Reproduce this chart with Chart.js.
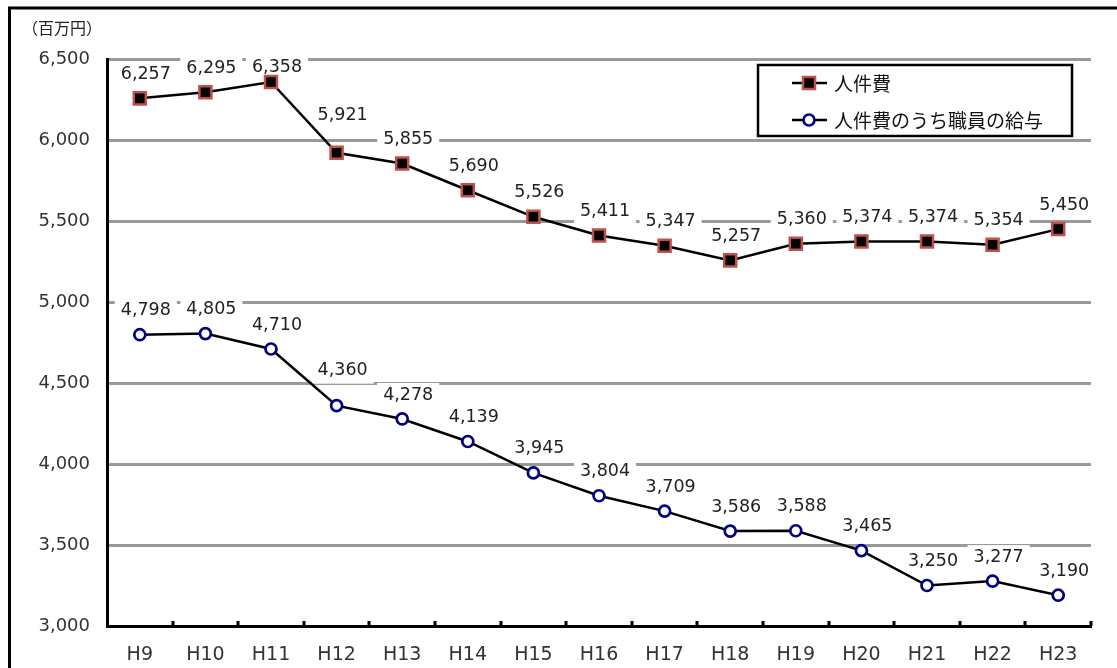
<!DOCTYPE html>
<html>
<head>
<meta charset="utf-8">
<script src="https://cdn.jsdelivr.net/npm/chart.js"></script>
<style>
    html, body { margin: 0; padding: 0; background: #fff; }
    #chartJinkenhi { display: block; }
</style>
</head>
<body>
<canvas id="chartJinkenhi" width="1117" height="668"></canvas>
<script>
// datos del grafico
var labels = ['H9', 'H10', 'H11', 'H12', 'H13', 'H14', 'H15', 'H16', 'H17', 'H18', 'H19', 'H20', 'H21', 'H22', 'H23'];
var datosJinkenhi = [6257, 6295, 6358, 5921, 5855, 5690, 5526, 5411, 5347, 5257, 5360, 5374, 5374, 5354, 5450];
var datosKyuyo = [4798, 4805, 4710, 4360, 4278, 4139, 3945, 3804, 3709, 3586, 3588, 3465, 3250, 3277, 3190];
var nombresSeries = ['人件費', '人件費のうち職員の給与'];
var tituloEjeY = '（百万円）';

var fuente = "'DejaVu Sans', 'Noto Sans CJK JP', sans-serif";
var fuenteJp = "'Noto Sans CJK JP', sans-serif";
Chart.defaults.font.family = fuente;

// etiquetas que Excel movio a mano (cuanto suben sobre el punto)
var alturaEspecial = { '0-2': 15, '0-3': 37, '1-3': 35 };

function posEtiqueta(chart, d, i) {
    var p = chart.getDatasetMeta(d).data[i];
    var sube = alturaEspecial[d + '-' + i] || 24;
    return { x: p.x + 6, y: p.y - sube };
}

// cajas blancas detras de las etiquetas, por debajo de las lineas
var pluginEtiquetas = {
    id: 'etiquetas',
    beforeDatasetsDraw: function(chart) {
        var ctx = chart.ctx;
        ctx.save();
        ctx.font = '17.5px ' + fuente;
        ctx.fillStyle = '#ffffff';
        chart.data.datasets.forEach(function(ds, d) {
            ds.data.forEach(function(v, i) {
                var pos = posEtiqueta(chart, d, i);
                var w = ctx.measureText(v.toLocaleString('en-US')).width;
                ctx.fillRect(pos.x - w / 2 - 6, pos.y - 12, w + 12, 25);
            });
        });
        ctx.restore();
    },
    afterDatasetsDraw: function(chart) {
        var ctx = chart.ctx;
        ctx.save();
        ctx.font = '17.5px ' + fuente;
        ctx.fillStyle = '#222222';
        ctx.textAlign = 'center';
        ctx.textBaseline = 'middle';
        chart.data.datasets.forEach(function(ds, d) {
            ds.data.forEach(function(v, i) {
                var pos = posEtiqueta(chart, d, i);
                ctx.fillText(v.toLocaleString('en-US'), pos.x, pos.y);
            });
        });
        ctx.restore();
    }
};

// marco, titulo del eje, marcas del eje X y leyenda
var pluginMarco = {
    id: 'marco',
    afterDraw: function(chart) {
        var ctx = chart.ctx;
        var area = chart.chartArea;
        ctx.save();

        ctx.strokeStyle = '#000';
        ctx.lineWidth = 3;
        ctx.beginPath();
        ctx.moveTo(9.5, 668);
        ctx.lineTo(9.5, 8);
        ctx.lineTo(1117, 8);
        ctx.stroke();

        ctx.fillStyle = '#222';
        ctx.font = '16px ' + fuenteJp;
        ctx.textAlign = 'left';
        ctx.textBaseline = 'middle';
        ctx.fillText(tituloEjeY, 22, 28);

        // marcas hacia dentro entre categorias
        var ancho = (area.right - area.left) / labels.length;
        ctx.lineWidth = 3;
        ctx.beginPath();
        for (var k = 1; k <= labels.length; k++) {
            var x = Math.round(area.left + k * ancho);
            ctx.moveTo(x, area.bottom);
            ctx.lineTo(x, area.bottom - 5);
        }
        ctx.stroke();

        // leyenda
        ctx.fillStyle = '#fff';
        ctx.fillRect(758, 65, 314, 71);
        ctx.lineWidth = 2.5;
        ctx.strokeStyle = '#000';
        ctx.strokeRect(758, 65, 314, 71);
        var filas = [83, 120];
        chart.data.datasets.forEach(function(ds, d) {
            var y = filas[d];
            ctx.strokeStyle = '#000';
            ctx.lineWidth = 2.5;
            ctx.beginPath();
            ctx.moveTo(792, y);
            ctx.lineTo(827, y);
            ctx.stroke();
            ctx.fillStyle = ds.pointBackgroundColor;
            ctx.strokeStyle = ds.pointBorderColor;
            ctx.lineWidth = ds.pointBorderWidth;
            ctx.beginPath();
            if (ds.pointStyle === 'rect') {
                var s = ds.pointRadius * Math.SQRT1_2;
                ctx.rect(809 - s, y - s, 2 * s, 2 * s);
            } else {
                ctx.arc(809, y, ds.pointRadius, 0, Math.PI * 2);
            }
            ctx.fill();
            ctx.stroke();
            ctx.fillStyle = '#111';
            ctx.font = '19px ' + fuenteJp;
            ctx.textAlign = 'left';
            ctx.textBaseline = 'middle';
            ctx.fillText(ds.label, 834, y + 1);
        });
        ctx.restore();
    }
};

var ctx = document.getElementById('chartJinkenhi').getContext('2d');
var myChart = new Chart(ctx, {
    type: 'line',
    data: {
        labels: labels,
        datasets: [
            {
                label: nombresSeries[0],
                data: datosJinkenhi,
                borderColor: '#000',
                borderWidth: 2.5,
                pointStyle: 'rect',
                pointRadius: 8.5,
                pointBackgroundColor: '#000',
                pointBorderColor: '#c0504d',
                pointBorderWidth: 2.5,
                tension: 0
            },
            {
                label: nombresSeries[1],
                data: datosKyuyo,
                borderColor: '#000',
                borderWidth: 2.5,
                pointStyle: 'circle',
                pointRadius: 5.5,
                pointBackgroundColor: '#fff',
                pointBorderColor: '#000080',
                pointBorderWidth: 2.7,
                tension: 0
            }
        ]
    },
    options: {
        responsive: false,
        animation: false,
        devicePixelRatio: 1,
        layout: {
            autoPadding: false,
            padding: { left: 0, right: 26, top: 59, bottom: 0 }
        },
        plugins: {
            legend: { display: false },
            tooltip: { enabled: false }
        },
        scales: {
            x: {
                offset: true,
                grid: { display: false },
                border: { display: true, color: '#000', width: 3 },
                ticks: { color: '#333', font: { size: 19 }, padding: 10, maxRotation: 0 },
                afterFit: function(scale) { scale.height = 42; }
            },
            y: {
                min: 3000,
                max: 6500,
                grid: { color: '#999999', lineWidth: 3, drawTicks: false },
                border: { display: true, color: '#000', width: 3 },
                ticks: {
                    stepSize: 500,
                    color: '#333',
                    font: { size: 18 },
                    padding: 17,
                    callback: function(v) { return v.toLocaleString('en-US'); }
                },
                afterFit: function(scale) { scale.width = 107; }
            }
        }
    },
    plugins: [pluginEtiquetas, pluginMarco]
});
</script>
</body>
</html>
